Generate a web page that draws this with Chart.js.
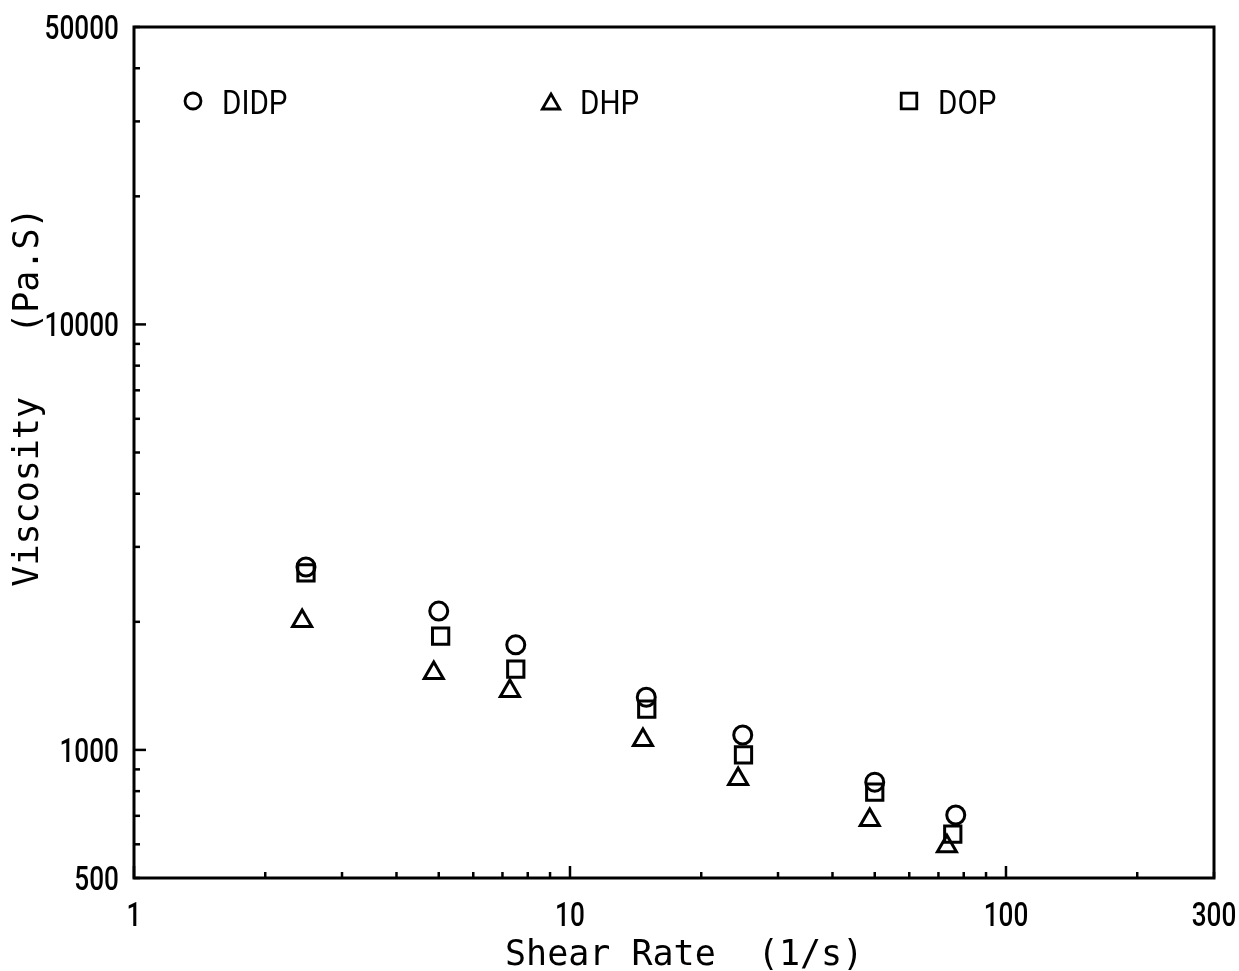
<!DOCTYPE html>
<html>
<head>
<meta charset="utf-8">
<script src="https://cdn.jsdelivr.net/npm/chart.js@4/dist/chart.umd.min.js"></script>
<style>
  body { margin: 0; background: #fff; }
  #wrap { position: relative; width: 1239px; height: 971px; }
</style>
</head>
<body>
<div id="wrap"><canvas id="viscChart"></canvas></div>
<script>
// Valores (viscosidad vs velocidad de cizalla)
const didpRate = [2.48, 5.0, 7.51, 14.96, 24.9, 50.0, 76.7];
const didpVisc = [2691, 2120, 1766, 1330, 1084, 840, 703];
const dhpRate = [2.43, 4.87, 7.28, 14.7, 24.3, 48.7, 73.2];
const dhpVisc = [2009, 1517, 1376, 1055, 854, 684, 594];
const dopRate = [2.48, 5.05, 7.51, 15.0, 25.0, 50.0, 75.5];
const dopVisc = [2606, 1852, 1549, 1247, 973, 796, 634];

// Marcas de los ejes
const xTicks = [1, 2, 3, 4, 5, 6, 7, 8, 9, 10, 20, 30, 40, 50, 60, 70, 80, 90, 100, 200, 300];
const xLabels = [1, 10, 100, 300];
const xMajor = [1, 10, 100];
const yTicks = [500, 600, 700, 800, 900, 1000, 2000, 3000, 4000, 5000, 6000, 7000, 8000, 9000, 10000, 20000, 30000, 40000, 50000];
const yLabels = [500, 1000, 10000, 50000];
const yMajor = [1000, 10000];

const xTitle = 'Shear Rate  (1/s)';
const yTitle = 'Viscosity   (Pa.S)';

const toPoints = (xs, ys) => xs.map((x, i) => ({ x: x, y: ys[i] }));

const narrowFont = "500 34px Roboto, 'DejaVu Sans', sans-serif";
const legendFont = "34px Roboto, 'DejaVu Sans', sans-serif";
const titleFont = "35px 'DejaVu Sans Mono', monospace";

// Texto estrecho (las etiquetas del original son condensadas)
function drawNarrow(ctx, text, x, y, align, sx) {
  ctx.save();
  ctx.translate(x, y);
  ctx.scale(sx, 1);
  ctx.textAlign = align;
  ctx.textBaseline = 'alphabetic';
  ctx.fillText(text, 0, 0);
  ctx.restore();
}

// Marco, marcas interiores, etiquetas, títulos y leyenda
const framePlugin = {
  id: 'frame',
  afterDraw(chart) {
    const ctx = chart.ctx;
    const a = chart.chartArea;
    const xs = chart.scales.x;
    const ys = chart.scales.y;
    ctx.save();
    ctx.strokeStyle = '#000';
    ctx.lineWidth = 3;
    ctx.strokeRect(a.left, a.top, a.right - a.left, a.bottom - a.top);

    ctx.lineWidth = 2.5;
    xTicks.forEach(v => {
      const px = xs.getPixelForValue(v);
      const len = xMajor.includes(v) ? 12 : 6;
      ctx.beginPath();
      ctx.moveTo(px, a.bottom);
      ctx.lineTo(px, a.bottom - len);
      ctx.stroke();
    });
    yTicks.forEach(v => {
      const py = ys.getPixelForValue(v);
      const len = yMajor.includes(v) ? 12 : 6;
      ctx.beginPath();
      ctx.moveTo(a.left, py);
      ctx.lineTo(a.left + len, py);
      ctx.stroke();
    });

    // Etiquetas de las marcas
    ctx.fillStyle = '#000';
    ctx.font = narrowFont;
    xLabels.forEach(v => {
      drawNarrow(ctx, String(v), xs.getPixelForValue(v), 926, 'center', 0.77);
    });
    yLabels.forEach(v => {
      drawNarrow(ctx, String(v), 119, ys.getPixelForValue(v) + 12, 'right', 0.77);
    });

    // Títulos de ejes
    ctx.font = titleFont;
    ctx.textAlign = 'left';
    ctx.textBaseline = 'alphabetic';
    ctx.fillText(xTitle, 505, 965);
    ctx.save();
    ctx.translate(29, 397);
    ctx.rotate(-Math.PI / 2);
    ctx.textAlign = 'center';
    ctx.textBaseline = 'middle';
    ctx.fillText(yTitle, 0, 0);
    ctx.restore();

    // Leyenda dentro del área
    const legendY = 101;
    const legendX = [193, 551, 909];
    ctx.font = legendFont;
    chart.data.datasets.forEach((ds, i) => {
      ctx.strokeStyle = '#000';
      ctx.fillStyle = 'rgba(0,0,0,0)';
      ctx.lineWidth = 2.8;
      Chart.helpers.drawPoint(ctx, {
        pointStyle: ds.pointStyle,
        radius: ds.legendRadius,
        borderWidth: 2.8,
        rotation: 0
      }, legendX[i], legendY + (ds.pointStyle === 'triangle' ? 3 : 0));
      ctx.fillStyle = '#000';
      drawNarrow(ctx, ds.label, legendX[i] + 29, legendY + 13, 'left', 0.87);
    });
    ctx.restore();
  }
};

const ctx = document.getElementById('viscChart').getContext('2d');
const viscChart = new Chart(ctx, {
  type: 'scatter',
  data: {
    datasets: [
      {
        label: 'DIDP',
        data: toPoints(didpRate, didpVisc),
        pointStyle: 'circle',
        pointRadius: 9,
        legendRadius: 8,
        borderColor: '#000',
        backgroundColor: 'rgba(0,0,0,0)',
        borderWidth: 3
      },
      {
        label: 'DHP',
        data: toPoints(dhpRate, dhpVisc),
        pointStyle: 'triangle',
        pointRadius: 11,
        legendRadius: 10,
        borderColor: '#000',
        backgroundColor: 'rgba(0,0,0,0)',
        borderWidth: 3
      },
      {
        label: 'DOP',
        data: toPoints(dopRate, dopVisc),
        pointStyle: 'rect',
        pointRadius: 11.5,
        legendRadius: 11,
        borderColor: '#000',
        backgroundColor: 'rgba(0,0,0,0)',
        borderWidth: 3
      }
    ]
  },
  options: {
    responsive: true,
    maintainAspectRatio: false,
    animation: false,
    layout: {
      padding: { left: 0, right: 25, top: 27, bottom: 0 }
    },
    scales: {
      x: {
        type: 'logarithmic',
        position: 'bottom',
        min: 1,
        max: 300,
        grid: { display: false },
        border: { display: false },
        afterBuildTicks: scale => {
          scale.ticks = xTicks.map(v => ({ value: v }));
        },
        afterFit: scale => {
          scale.height = 93;
          scale.paddingLeft = 0;
          scale.paddingRight = 0;
        },
        ticks: { display: false, autoSkip: false }
      },
      y: {
        type: 'logarithmic',
        position: 'left',
        min: 500,
        max: 50000,
        grid: { display: false },
        border: { display: false },
        afterBuildTicks: scale => {
          scale.ticks = yTicks.map(v => ({ value: v }));
        },
        afterFit: scale => {
          scale.width = 134;
          scale.paddingTop = 0;
          scale.paddingBottom = 0;
        },
        ticks: { display: false, autoSkip: false }
      }
    },
    plugins: {
      legend: { display: false },
      tooltip: { enabled: false }
    }
  },
  plugins: [framePlugin]
});
</script>
</body>
</html>
